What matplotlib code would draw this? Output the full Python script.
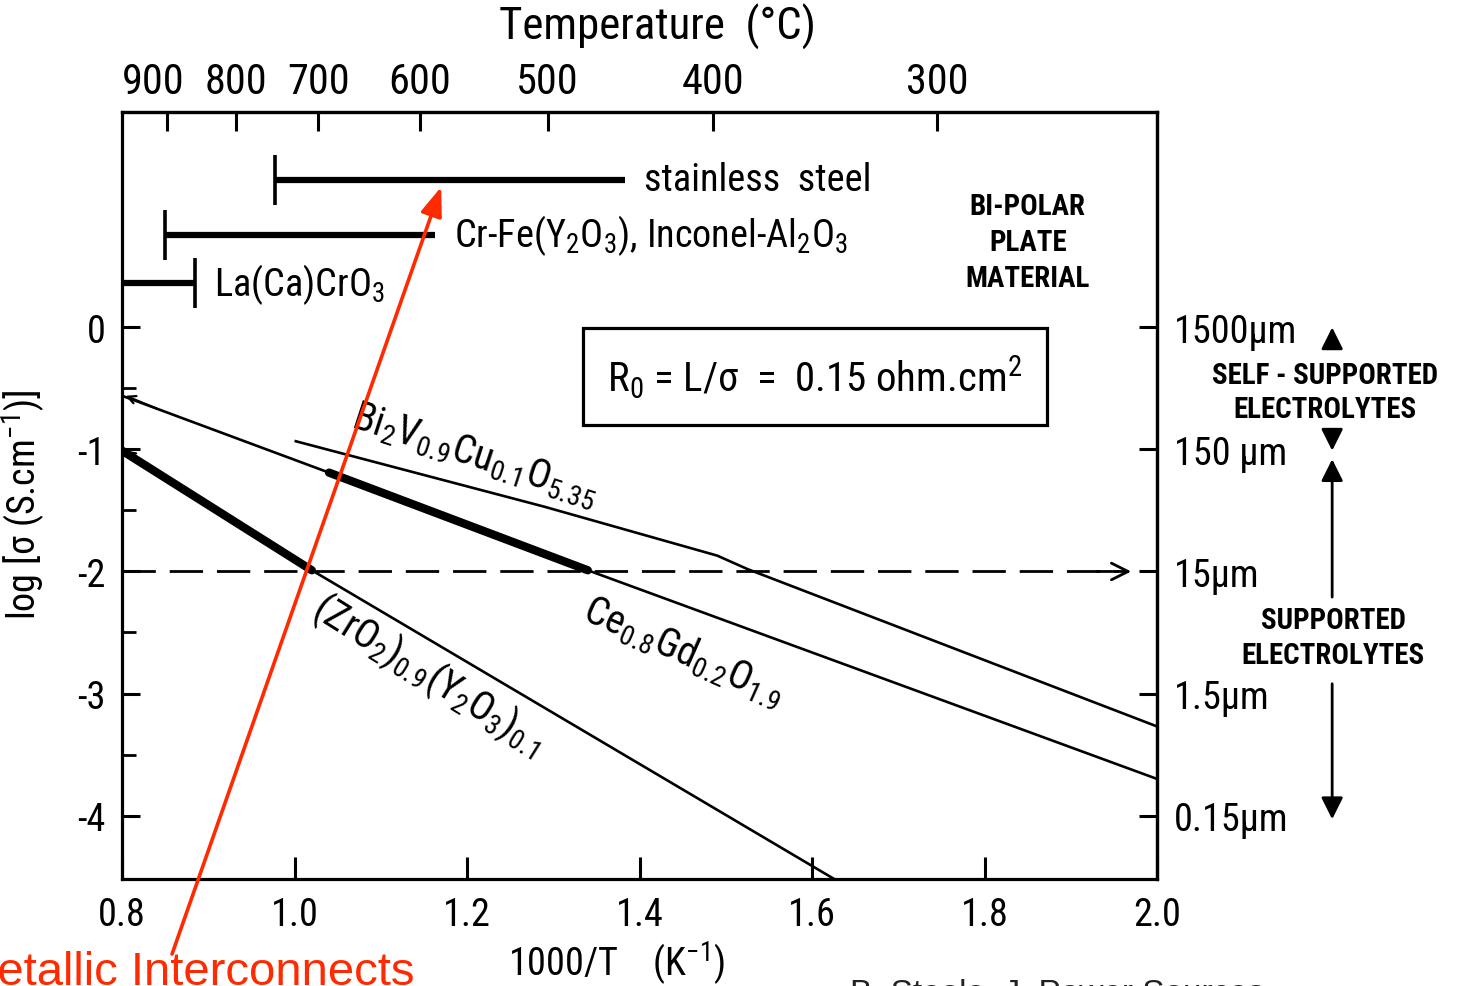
import numpy as np
import matplotlib
matplotlib.use("Agg")
import matplotlib.pyplot as plt
import matplotlib.transforms as mtransforms
from matplotlib import font_manager

# Conductivity of electrolytes: 1000/T (K^-1) against log sigma (S/cm)
bi_x = [1.00, 1.29, 1.49, 1.525, 2.00]
bi_y = [-0.93, -1.47, -1.87, -1.98, -3.27]

ce_x = [0.80, 1.04, 1.34, 2.00]
ce_y = [-0.56, -1.19, -1.99, -3.70]
ce_measured = (1, 2)          # heavy segment = measured range

zr_x = [0.80, 1.02, 1.64]
zr_y = [-1.01, -1.99, -4.58]
zr_measured = (0, 1)

# Bi-polar plate materials and their working window in 1000/T
plate_names = ["stainless  steel",
               "Cr-Fe(Y$_2$O$_3$), Inconel-Al$_2$O$_3$",
               "La(Ca)CrO$_3$"]
plate_lo = [0.977, 0.850, 0.800]
plate_hi = [1.383, 1.163, 0.885]
plate_level = [1.21, 0.76, 0.36]
plate_cap = ["lo", "lo", "hi"]

# R0 = L/sigma = 0.15 ohm.cm2 target level
r0_level = -2

x_ticks = [0.8, 1.0, 1.2, 1.4, 1.6, 1.8, 2.0]
temp_ticks = [900, 800, 700, 600, 500, 400, 300]
log_ticks = [0, -1, -2, -3, -4]
log_minor = [-0.5, -1.5, -2.5, -3.5]
thickness_labels = ["1500µm", "150 µm", "15µm", "1.5µm", "0.15µm"]

# pick a narrow face if one is around
names = {f.name for f in font_manager.fontManager.ttflist}
if "Liberation Sans Narrow" in names:
    narrow, k = "Liberation Sans Narrow", 1.0
elif "Roboto Condensed" in names:
    narrow, k = "Roboto Condensed", 0.95
else:
    narrow, k = "DejaVu Sans", 0.8
    plt.rcParams["font.stretch"] = "condensed"

plt.rcParams["font.family"] = [narrow, "DejaVu Sans"]
plt.rcParams["mathtext.fontset"] = "custom"
plt.rcParams["mathtext.rm"] = narrow
plt.rcParams["mathtext.it"] = narrow + ":italic"
plt.rcParams["mathtext.bf"] = narrow + ":bold"
plt.rcParams["axes.unicode_minus"] = False

fig = plt.figure(figsize=(14.58, 9.87), dpi=100)
ax = fig.add_axes([0.0837, 0.1084, 0.7099, 0.7771])
ax.set_xlim(0.8, 2.0)
ax.set_ylim(-4.52, 1.765)

for s in ax.spines.values():
    s.set_linewidth(2.3)

lw_thin, lw_thick = 1.9, 6.0

# conductivity lines
ax.plot(bi_x, bi_y, color="black", lw=lw_thin, solid_capstyle="butt")
ax.plot(ce_x, ce_y, color="black", lw=lw_thin)
a, b = ce_measured
ax.plot(ce_x[a:b + 1], ce_y[a:b + 1], color="black", lw=lw_thick, solid_capstyle="round")
ax.plot(zr_x, zr_y, color="black", lw=lw_thin)
a, b = zr_measured
ax.plot(zr_x[a:b + 1], zr_y[a:b + 1], color="black", lw=lw_thick, solid_capstyle="round")

# small arrow heads at the left end of the Ce and Zr curves
for xs, ys in [(ce_x, ce_y), (zr_x, zr_y)]:
    ax.annotate("", xy=(xs[0] + 0.004, ys[0]),
                xytext=(0.84, np.interp(0.84, xs, ys)),
                arrowprops=dict(arrowstyle="->", lw=1.6, mutation_scale=14,
                                shrinkA=0, shrinkB=0))

# R0 level, dashed with an open head
ax.plot([0.8, 1.955], [r0_level, r0_level], color="black", lw=2.0, ls=(0, (12, 5)))
ax.annotate("", xy=(1.97, r0_level), xytext=(1.93, r0_level),
            arrowprops=dict(arrowstyle="->", lw=2.0, mutation_scale=30,
                            shrinkA=0, shrinkB=0))

# plate material windows
for name, lo, hi, yv, cap in zip(plate_names, plate_lo, plate_hi, plate_level, plate_cap):
    ax.plot([lo, hi], [yv, yv], color="black", lw=4.5, solid_capstyle="butt")
    ax.plot([lo if cap == "lo" else hi], [yv], marker="|", ms=36, mew=2.6, color="black")
    ax.text(hi + 0.022, yv, name, fontsize=29 * k, va="center", ha="left")

ax.text(1.85, 0.70, "BI-POLAR\nPLATE\nMATERIAL", fontsize=22 * k, ha="center",
        va="center", weight="bold", linespacing=1.35)

ax.text(1.6035, -0.40, "R$_0$ = L/σ  =  0.15 ohm.cm$^2$", fontsize=31 * k,
        ha="center", va="center",
        bbox=dict(boxstyle="square,pad=0.6", fc="white", ec="black", lw=2.3))

# curve labels
ax.text(1.209, -1.04, "Bi$_2$V$_{0.9}$Cu$_{0.1}$O$_{5.35}$", fontsize=30 * k,
        rotation=-18, rotation_mode="anchor", ha="center", va="center")
ax.text(1.452, -2.65, "Ce$_{0.8}$Gd$_{0.2}$O$_{1.9}$", fontsize=30 * k,
        rotation=-24, rotation_mode="anchor", ha="center", va="center")
ax.text(1.155, -2.84, "(ZrO$_2$)$_{0.9}$(Y$_2$O$_3$)$_{0.1}$", fontsize=30 * k,
        rotation=-32, rotation_mode="anchor", ha="center", va="center")

# bottom / left axes
ax.set_xticks(x_ticks, labels=[f"{v:.1f}" for v in x_ticks])
ax.set_yticks(log_ticks, labels=[str(v) for v in log_ticks])
ax.set_yticks(log_minor, minor=True)
ax.tick_params(axis="x", direction="in", length=16, width=2.2, pad=12, labelsize=29 * k)
ax.tick_params(axis="y", which="major", direction="in", length=13, width=2.2, pad=12,
               labelsize=29 * k)
ax.tick_params(axis="y", which="minor", direction="in", length=10, width=2.0)
ax.set_xlabel("1000/T    (K$^{-1}$)", fontsize=29 * k)
ax.xaxis.set_label_coords(0.478, -0.078)
ax.set_ylabel("log [σ (S.cm$^{-1}$)]", fontsize=29 * k)
ax.yaxis.set_label_coords(-0.072, 0.489)

# temperature scale on top
top = ax.secondary_xaxis("top")
top.set_xticks([1000 / (t + 273.15) for t in temp_ticks], labels=[str(t) for t in temp_ticks])
top.tick_params(direction="in", length=14, width=2.2, pad=7, labelsize=32 * k)
top.spines["top"].set_linewidth(2.3)
# nudge the crowded 900 label to the left
lab900 = top.get_xticklabels()[0]
lab900.set_transform(lab900.get_transform()
                     + mtransforms.ScaledTranslation(-10 / 72, 0, fig.dpi_scale_trans))
ax.text(0.517, 1.112, "Temperature  (°C)", transform=ax.transAxes, fontsize=34 * k,
        ha="center", va="center")

# electrolyte thickness on the right
right = ax.secondary_yaxis("right")
right.set_yticks(log_ticks, labels=thickness_labels)
right.tick_params(direction="in", length=13, width=2.2, pad=12, labelsize=29 * k)
right.spines["right"].set_linewidth(2.3)

# thickness ranges beside the right scale
xr = 2.203
ax.text(2.195, -0.53, "SELF - SUPPORTED\nELECTROLYTES", fontsize=22 * k, weight="bold",
        ha="center", va="center", linespacing=1.3, clip_on=False)
ax.text(2.204, -2.54, "SUPPORTED\nELECTROLYTES", fontsize=22 * k, weight="bold",
        ha="center", va="center", linespacing=1.3, clip_on=False)
head = dict(arrowstyle="-|>,head_length=0.6,head_width=0.3", lw=2.0, color="black",
            mutation_scale=22, shrinkA=0, shrinkB=0)
for tip, tail in [(0.0, -0.12), (-1.01, -0.90), (-1.08, -2.21), (-4.03, -2.92)]:
    ax.annotate("", xy=(xr, tip), xytext=(xr, tail), arrowprops=head,
                annotation_clip=False)

# interconnect call-out
red = "#ff2a00"
ax.annotate("", xy=(1.170, 1.151), xytext=(0.118, 0.0324), textcoords="figure fraction",
            arrowprops=dict(arrowstyle="-|>,head_length=0.8,head_width=0.3", color=red,
                            lw=2.6, mutation_scale=22, shrinkA=0, shrinkB=0),
            annotation_clip=False)
fig.text(0.2846, 0.002, "Metallic Interconnects", color=red, fontsize=34,
         family=["Liberation Sans", "DejaVu Sans"], stretch="normal",
         ha="right", va="baseline")
fig.text(0.583, 0.009, "B. Steele, J. Power Sources", color="#222222", fontsize=24,
         family=["Liberation Sans", "DejaVu Sans"], stretch="normal",
         ha="left", va="top")

fig.savefig("out.png", dpi=100)
